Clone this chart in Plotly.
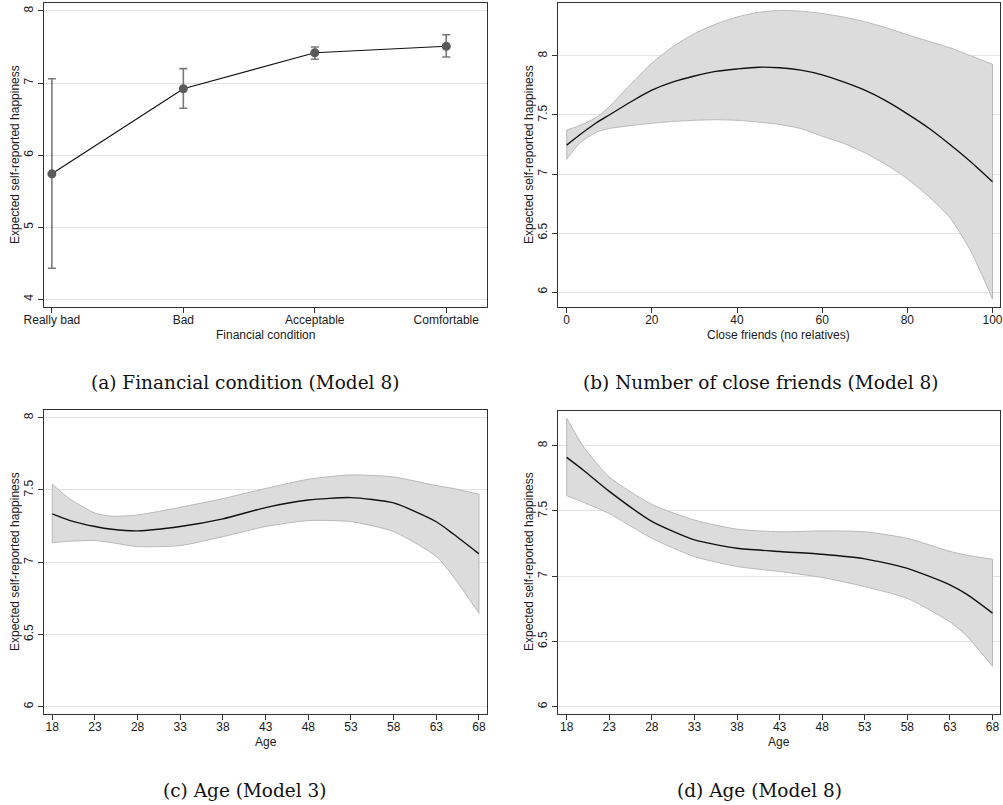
import plotly.graph_objects as go

W, H = 1003, 805

# ---------------- data ----------------
fin_categories = ["Really bad", "Bad", "Acceptable", "Comfortable"]
fin_mean = [5.74, 6.92, 7.42, 7.51]
fin_lo = [4.43, 6.65, 7.33, 7.36]
fin_hi = [7.06, 7.20, 7.50, 7.67]

friends_x = [0, 3, 7, 10, 15, 20, 25, 30, 35, 40, 45, 50, 55, 60, 65, 70, 75, 80, 85, 90, 95, 100]
friends_fit = [7.245, 7.33, 7.434, 7.50, 7.61, 7.71, 7.78, 7.83, 7.87, 7.89, 7.905, 7.90, 7.88, 7.84,
               7.78, 7.71, 7.62, 7.51, 7.39, 7.25, 7.10, 6.935]
friends_hi = [7.373, 7.41, 7.48, 7.57, 7.76, 7.94, 8.08, 8.19, 8.27, 8.33, 8.37, 8.385, 8.38, 8.36,
              8.33, 8.29, 8.24, 8.18, 8.125, 8.07, 8.00, 7.93]
friends_lo = [7.125, 7.26, 7.355, 7.385, 7.41, 7.43, 7.445, 7.455, 7.46, 7.455, 7.44, 7.42, 7.385, 7.32,
              7.26, 7.18, 7.08, 6.96, 6.81, 6.63, 6.34, 5.94]

age3_x = [18, 20, 23, 25, 28, 33, 38, 43, 48, 53, 58, 63, 65, 68]
age3_fit = [7.334, 7.29, 7.247, 7.228, 7.217, 7.247, 7.30, 7.378, 7.43, 7.447, 7.41, 7.28, 7.195, 7.058]
age3_hi = [7.54, 7.44, 7.34, 7.318, 7.327, 7.38, 7.44, 7.51, 7.574, 7.604, 7.59, 7.53, 7.51, 7.47]
age3_lo = [7.135, 7.145, 7.15, 7.135, 7.108, 7.115, 7.177, 7.247, 7.288, 7.281, 7.212, 7.04, 6.90, 6.647]

age8_x = [18, 20, 23, 28, 33, 38, 43, 48, 53, 58, 63, 65, 68]
age8_fit = [7.91, 7.81, 7.65, 7.42, 7.278, 7.214, 7.189, 7.168, 7.133, 7.06, 6.934, 6.86, 6.717]
age8_hi = [8.21, 7.99, 7.76, 7.55, 7.43, 7.36, 7.34, 7.347, 7.34, 7.29, 7.19, 7.16, 7.13]
age8_lo = [7.617, 7.565, 7.48, 7.29, 7.15, 7.074, 7.036, 6.99, 6.92, 6.83, 6.65, 6.54, 6.309]

y_ticks_a = [4, 5, 6, 7, 8]
y_ticks_bcd = [6, 6.5, 7, 7.5, 8]
x_ticks_friends = [0, 20, 40, 60, 80, 100]
x_ticks_age = [18, 23, 28, 33, 38, 43, 48, 53, 58, 63, 68]

captions = ["(a) Financial condition (Model 8)", "(b) Number of close friends (Model 8)",
            "(c) Age (Model 3)", "(d) Age (Model 8)"]
x_titles = ["Financial condition", "Close friends (no relatives)", "Age", "Age"]
y_title = "Expected self-reported happiness"

# ---------------- layout helpers ----------------
def px_dom_x(a, b):
    return [a / W, b / W]

def px_dom_y(top, bottom):
    return [1 - bottom / H, 1 - top / H]

panels = {
    "a": dict(x=(44, 487), y=(3, 307), xr=[-0.06, 3.31], yr=[3.893, 8.11]),
    "b": dict(x=(557.5, 1000), y=(3, 307), xr=[-2.16, 101.76], yr=[5.873, 8.449]),
    "c": dict(x=(44, 487), y=(410, 714), xr=[17.03, 68.94], yr=[5.95, 8.053]),
    "d": dict(x=(557.5, 1000), y=(410.7, 714), xr=[16.92, 68.88], yr=[5.944, 8.268]),
}

TICKFONT = dict(family="Liberation Sans, Arial, sans-serif", size=12, color="#1a1a1a")
FILL = "#dcdcdc"
EDGE = "#b9b9b9"

fig = go.Figure()

# panel a
fig.add_trace(go.Scatter(
    x=fin_categories, y=fin_mean, mode="lines+markers",
    line=dict(color="#111111", width=1.2),
    marker=dict(color="#5a5a5a", size=9),
    error_y=dict(type="data", symmetric=False,
                 array=[h - m for h, m in zip(fin_hi, fin_mean)],
                 arrayminus=[m - l for m, l in zip(fin_mean, fin_lo)],
                 color="#7a7a7a", thickness=1.6, width=4),
    xaxis="x", yaxis="y", showlegend=False))

def band(xs, lo, hi, fit, xa, ya):
    fig.add_trace(go.Scatter(
        x=xs, y=lo, mode="lines",
        line=dict(color=EDGE, width=1, shape="spline", smoothing=0.6),
        xaxis=xa, yaxis=ya, showlegend=False, hoverinfo="skip"))
    fig.add_trace(go.Scatter(
        x=xs, y=hi, mode="lines", fill="tonexty", fillcolor=FILL,
        line=dict(color=EDGE, width=1, shape="spline", smoothing=0.6),
        xaxis=xa, yaxis=ya, showlegend=False, hoverinfo="skip"))
    # closing edges of the band at both ends
    for j in (0, -1):
        fig.add_trace(go.Scatter(
            x=[xs[j], xs[j]], y=[lo[j], hi[j]], mode="lines",
            line=dict(color=EDGE, width=1),
            xaxis=xa, yaxis=ya, showlegend=False, hoverinfo="skip"))
    fig.add_trace(go.Scatter(
        x=xs, y=fit, mode="lines",
        line=dict(color="#111111", width=1.4, shape="spline", smoothing=0.6),
        xaxis=xa, yaxis=ya, showlegend=False))

band(friends_x, friends_lo, friends_hi, friends_fit, "x2", "y2")
band(age3_x, age3_lo, age3_hi, age3_fit, "x3", "y3")
band(age8_x, age8_lo, age8_hi, age8_fit, "x4", "y4")

def axis_common():
    return dict(showline=True, linecolor="#333333", linewidth=1, mirror=True,
                ticks="outside", ticklen=5, tickcolor="#333333", tickwidth=1,
                tickfont=TICKFONT, zeroline=False, fixedrange=True, automargin=False)

layout_axes = {}
keys = ["a", "b", "c", "d"]
for i, k in enumerate(keys):
    p = panels[k]
    suffix = "" if i == 0 else str(i + 1)
    xa = axis_common()
    xa.update(domain=px_dom_x(*p["x"]), range=p["xr"], showgrid=False,
              anchor="y" + suffix, ticklabelstandoff=-3)
    ya = axis_common()
    ya.update(domain=px_dom_y(*p["y"]), range=p["yr"], showgrid=True,
              gridcolor="#e3e3e3", gridwidth=1, tickangle=-90,
              anchor="x" + suffix)
    if k == "a":
        xa.update(type="category")
        ya.update(tickvals=y_ticks_a, ticktext=[str(v) for v in y_ticks_a])
    else:
        ya.update(tickvals=y_ticks_bcd, ticktext=[("%g" % v) for v in y_ticks_bcd])
        xt = x_ticks_friends if k == "b" else x_ticks_age
        xa.update(tickvals=xt, ticktext=[str(v) for v in xt])
    layout_axes["xaxis" + suffix] = xa
    layout_axes["yaxis" + suffix] = ya

annotations = []
cap_pos = [(245, 382), (760, 382), (245, 790), (759, 790)]
xt_pos = [(265.5, 335), (778.75, 335), (265.5, 742), (778.75, 742)]
yt_pos = [(15, 155), (529, 155), (15, 562), (529, 562)]
for i in range(4):
    cx, cy = cap_pos[i]
    annotations.append(dict(text=captions[i], x=cx / W, y=1 - cy / H, xref="paper", yref="paper",
                            xanchor="center", yanchor="middle", showarrow=False,
                            font=dict(family="DejaVu Serif, serif", size=18.5, color="#111111")))
    tx, ty = xt_pos[i]
    annotations.append(dict(text=x_titles[i], x=tx / W, y=1 - ty / H, xref="paper", yref="paper",
                            xanchor="center", yanchor="middle", showarrow=False, font=TICKFONT))
    yx, yy = yt_pos[i]
    annotations.append(dict(text=y_title, x=yx / W, y=1 - yy / H, xref="paper", yref="paper",
                            xanchor="center", yanchor="middle", showarrow=False, textangle=-90,
                            font=TICKFONT))

fig.update_layout(
    width=W, height=H, margin=dict(l=0, r=0, t=0, b=0, autoexpand=False),
    paper_bgcolor="white", plot_bgcolor="white",
    annotations=annotations, showlegend=False, **layout_axes)

fig.write_html("out.html", config={"displayModeBar": False},
               post_script="document.body.style.margin='0';document.body.style.overflow='hidden';")
